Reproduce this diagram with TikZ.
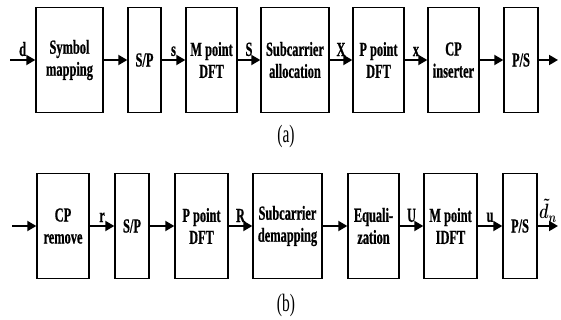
\documentclass[tikz,border=0pt]{standalone}
\usepackage{fontspec}
\usepackage{graphicx}
\setmainfont{Liberation Serif}[FakeStretch=0.62, BoldFeatures={FakeBold=0.6}]
\usetikzlibrary{arrows.meta}

\begin{document}
\begin{tikzpicture}[x=1pt,y=-1pt,
    blk/.style={draw, line width=1.4pt, inner sep=0pt, minimum height=105pt, align=center,
      font=\fontsize{20}{22}\selectfont\bfseries},
    sig/.style={line width=1.9pt, -{Triangle[length=9pt,width=10pt]}},
    lbl/.style={font=\fontsize{20}{22}\selectfont\bfseries, above=2pt, inner sep=1pt},
    subcap/.style={font=\fontsize{25}{28}\selectfont}]
  \useasboundingbox (0,0) rectangle (561,320);

  % (a) transmitter
  \coordinate (in1) at (10,60);
  \node[blk, minimum width=67pt] (sm)   at (69.5,60)  {Symbol\\mapping};
  \node[blk, minimum width=33pt] (sp)   at (144.5,60) {S/P};
  \node[blk, minimum width=51pt] (mdft) at (211.5,60) {M point\\DFT};
  \node[blk, minimum width=68pt] (sa)   at (295,60)   {Subcarrier\\allocation};
  \node[blk, minimum width=51pt] (pdft) at (378.5,60) {P point\\DFT};
  \node[blk, minimum width=51pt] (cpi)  at (453.5,60) {CP\\inserter};
  \node[blk, minimum width=34pt] (ps)   at (521,60)   {P/S};
  \coordinate (out1) at (558,60);

  \draw[sig] (in1) -- node[lbl] (ld) {d} (sm);
  \draw[sig] (sm) -- (sp);
  \draw[sig] (sp) -- node[lbl] (ls) {s} (mdft);
  \draw[sig] (mdft) -- node[lbl] (lS) {S} (sa);
  \draw[sig] (sa) -- node[lbl] (lX) {X} (pdft);
  \draw[sig] (pdft) -- node[lbl] (lx) {x} (cpi);
  \draw[sig] (cpi) -- (ps);
  \draw[sig] (ps) -- (out1);

  \node[subcap] (capa) at (286,136) {(a)};

  % (b) receiver
  \coordinate (in2) at (12,226);
  \node[blk, minimum width=52pt] (cpr)   at (63,226)    {CP\\remove};
  \node[blk, minimum width=34pt] (sp2)   at (132,226)   {S/P};
  \node[blk, minimum width=53pt] (pdft2) at (201.5,226) {P point\\DFT};
  \node[blk, minimum width=69pt] (sd)    at (287.5,226) {Subcarrier\\demapping};
  \node[blk, minimum width=51pt] (eq)    at (373.5,226) {Equali-\\zation};
  \node[blk, minimum width=53pt] (midft) at (450.5,226) {M point\\IDFT};
  \node[blk, minimum width=34pt] (ps2)   at (520,226)   {P/S};
  \coordinate (out2) at (558,226);

  \draw[sig] (in2) -- (cpr);
  \draw[sig] (cpr) -- node[lbl] (lr) {r} (sp2);
  \draw[sig] (sp2) -- (pdft2);
  \draw[sig] (pdft2) -- node[lbl] (lR) {R} (sd);
  \draw[sig] (sd) -- (eq);
  \draw[sig] (eq) -- node[lbl] (lU) {U} (midft);
  \draw[sig] (midft) -- node[lbl] (lu) {u} (ps2);
  \draw[sig] (ps2) -- node[lbl] (ld2) {\scalebox{0.75}[1]{\boldmath$\tilde{d}_n$}} (out2);

  \node[subcap] (capb) at (286,305) {(b)};
\end{tikzpicture}
\end{document}
